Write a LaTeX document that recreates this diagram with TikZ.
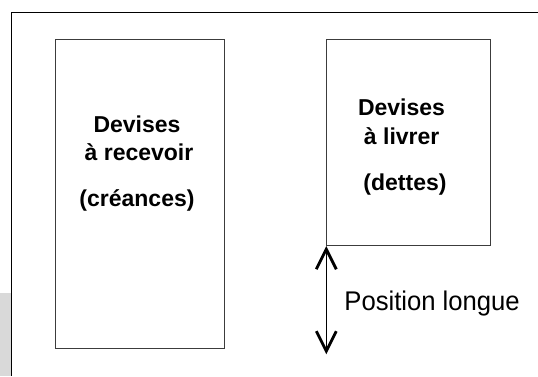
\documentclass[tikz,border=0pt]{standalone}
\usepackage{fontspec}
\setmainfont{Liberation Sans}
\newfontfamily\posfont[FakeStretch=0.95]{Liberation Sans}
\usetikzlibrary{arrows.meta}
\definecolor{patchgray}{RGB}{217,217,217}
\definecolor{boxline}{RGB}{60,60,60}
\tikzset{
  boxnode/.style={draw=boxline, line width=1.1pt, rectangle, inner sep=0pt, anchor=north west},
  boldtxt/.style={inner sep=0pt, anchor=base, font=\fontsize{23}{27}\selectfont\bfseries},
  postxt/.style={inner sep=0pt, anchor=base west, font=\posfont\fontsize{27}{32}\selectfont},
  posarrow/.style={line width=1.4pt, {Straight Barb[length=20pt,width=20pt,line width=2.8pt]}-{Straight Barb[length=20pt,width=20pt,line width=2.8pt]}}
}
\begin{document}
\begin{tikzpicture}[x=1pt,y=-1pt]
\useasboundingbox (0,0) rectangle (538,376);
\fill[white] (0,0) rectangle (538,376);
% grey patch at left bottom
\fill[patchgray] (0,293) rectangle (11,376);
% outer frame (open to the right and bottom)
\draw[line width=1pt, black] (538,12) -- (11.5,12) -- (11.5,376);
% boxes
\node[boxnode, minimum width=169pt, minimum height=309.3pt] (L) at (54.5,39) {};
\node[boxnode, minimum width=163.7pt, minimum height=206pt] (R) at (326.3,39) {};
% left texts
\node[boldtxt] (l1) at (137,132.3) {Devises};
\node[boldtxt] (l2) at (139,160) {à recevoir};
\node[boldtxt] (l3) at (137,206.7) {(créances)};
% right texts
\node[boldtxt] (r1) at (401.5,115) {Devises};
\node[boldtxt] (r2) at (401.7,144) {à livrer};
\node[boldtxt] (r3) at (405,190) {(dettes)};
% arrow
\coordinate (abot) at (326.3,354.3);
\draw[posarrow] (R.south west) -- (abot);
\node[postxt] (pos) at (344.2,310.7) {Position longue};
\end{tikzpicture}
\end{document}
